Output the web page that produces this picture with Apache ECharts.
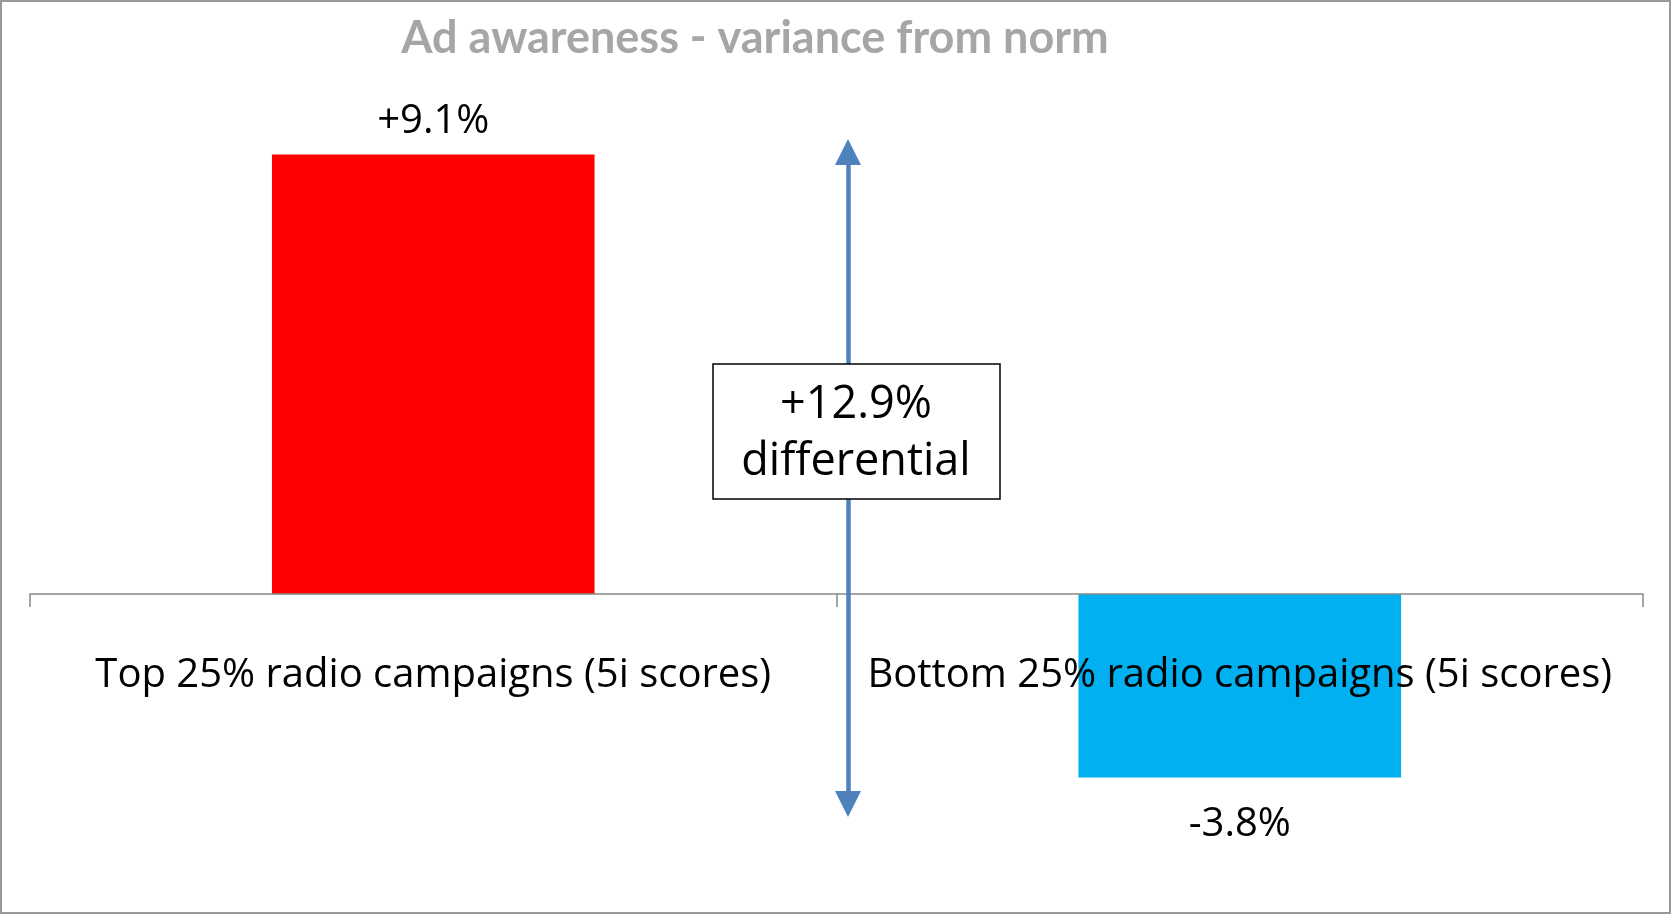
<!DOCTYPE html>
<html>
<head>
<meta charset="utf-8">
<title>Ad awareness - variance from norm</title>
<script src="https://cdn.jsdelivr.net/npm/echarts@6/dist/echarts.min.js"></script>
<style>
    html, body { margin: 0; padding: 0; background: #fff; }
    #chart { width: 1673px; height: 915px; }
</style>
</head>
<body>
<div id="chart"></div>
<script>
// data
const categories = ["Top 25% radio campaigns (5i scores)", "Bottom 25% radio campaigns (5i scores)"];
const variance = [9.1, -3.8];
const barColors = ["#FF0000", "#00B0F0"];
// arrow spans a bit beyond the bars
const arrowSpan = [9.15, -4.35];

const fmt = (v) => (v > 0 ? "+" : "") + v.toFixed(1) + "%";
const diff = variance[0] - variance[1];

const chart = echarts.init(document.getElementById("chart"));

chart.setOption({
    backgroundColor: "#fff",
    animation: false,
    textStyle: { fontFamily: "Open Sans" },
    title: {
        text: "Ad awareness - variance from norm",
        left: 750,
        top: 11,
        textAlign: "center",
        textStyle: {
            fontFamily: "Lato",
            fontWeight: "bold",
            fontSize: 45,
            color: "#A6A6A6",
        },
    },
    grid: {
        left: 30,
        right: 30,
        top: 111,
        bottom: 79.5,
        containLabel: false,
        outerBoundsMode: "none",
    },
    xAxis: {
        type: "category",
        data: categories,
        z: 5,
        axisLine: { show: true, onZero: true, lineStyle: { color: "#888", width: 1.5 } },
        axisTick: { show: true, length: 13, lineStyle: { color: "#888", width: 1.5 } },
        axisLabel: {
            show: true,
            // labels sit at the grid bottom, pull them up under the zero line
            margin: -180,
            fontSize: 40,
            color: "#000",
            fontFamily: "Open Sans",
            interval: 0,
        },
    },
    yAxis: {
        type: "value",
        min: -5,
        max: 10,
        show: false,
    },
    series: [
        {
            type: "bar",
            barWidth: "40%",
            data: variance.map((v, i) => ({
                value: v,
                itemStyle: { color: barColors[i] },
                label: {
                    show: true,
                    position: v >= 0 ? "top" : "bottom",
                    distance: v >= 0 ? 13 : 27,
                    fontSize: 40,
                    color: "#000",
                    fontFamily: "Open Sans",
                    formatter: fmt(v),
                },
            })),
            markLine: {
                silent: true,
                z: 10,
                symbol: ["triangle", "triangle"],
                symbolSize: [26, 26],
                label: { show: false },
                lineStyle: { color: "#4F81BD", width: 4.5, type: "solid" },
                // x is a pixel offset just right of the category boundary
                data: [[
                    { coord: [0, arrowSpan[0]], x: 848 },
                    { coord: [0, arrowSpan[1]], x: 848 },
                ]],
            },
        },
    ],
    graphic: [
        {
            type: "rect",
            z: 100,
            shape: { x: 713, y: 364, width: 287, height: 135 },
            style: { fill: "#fff", stroke: "#000", lineWidth: 1.5 },
        },
        {
            type: "text",
            z: 101,
            x: 856,
            y: 434,
            style: {
                text: "+" + diff.toFixed(1) + "%\ndifferential",
                fontFamily: "Open Sans",
                fontSize: 45,
                lineHeight: 57,
                fill: "#000",
                align: "center",
                verticalAlign: "middle",
            },
        },
        {
            type: "rect",
            z: 100,
            shape: { x: 1, y: 1, width: 1669, height: 912 },
            style: { fill: null, stroke: "#999", lineWidth: 2 },
        },
    ],
});

window.addEventListener("resize", () => chart.resize());
</script>
</body>
</html>
